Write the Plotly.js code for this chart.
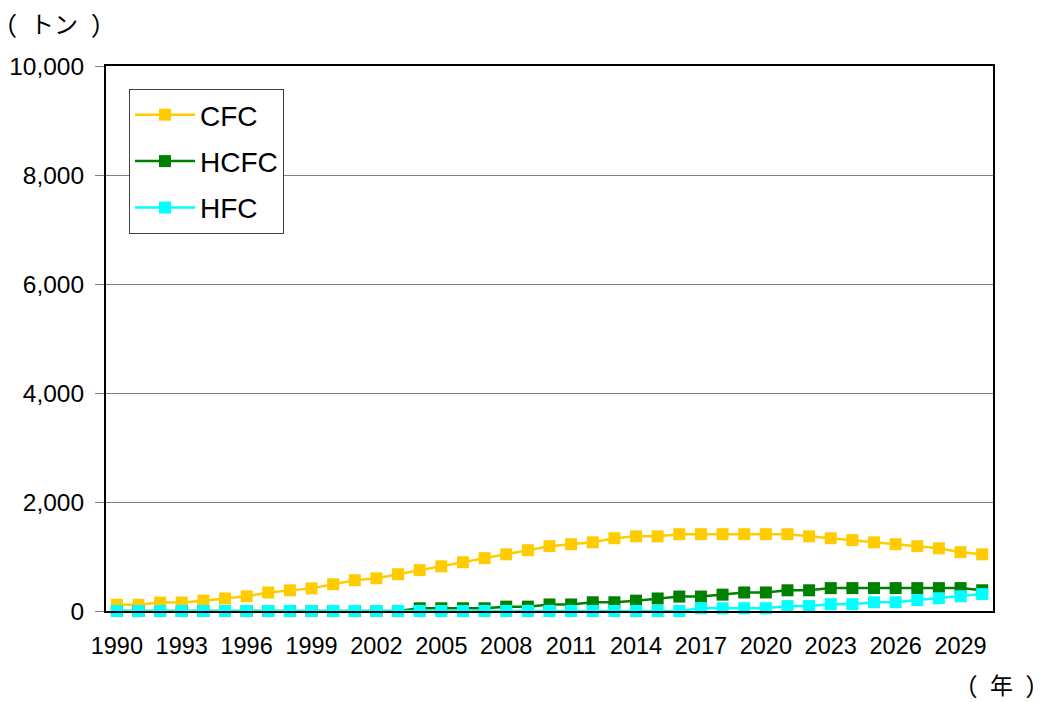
<!DOCTYPE html>
<html>
<head>
<meta charset="utf-8">
<script src="https://cdn.plot.ly/plotly-3.0.1.min.js"></script>
<style>
  html, body { margin: 0; padding: 0; background: #ffffff; }
  #chart { width: 1042px; height: 702px; }
</style>
</head>
<body>
<div id="chart"></div>
<script>
// ---- data (tonnes) ----
var years = [1990,1991,1992,1993,1994,1995,1996,1997,1998,1999,
             2000,2001,2002,2003,2004,2005,2006,2007,2008,2009,
             2010,2011,2012,2013,2014,2015,2016,2017,2018,2019,
             2020,2021,2022,2023,2024,2025,2026,2027,2028,2029,2030];

var cfc  = [115,115,155,155,190,230,270,340,380,415,
            490,565,600,675,750,820,895,970,1040,1115,
            1190,1225,1260,1335,1370,1370,1410,1410,1410,1410,
            1410,1410,1370,1335,1300,1260,1225,1190,1150,1080,1040];

var hcfc = [0,0,0,0,0,0,0,0,0,0,
            0,0,0,0,50,50,50,50,80,80,
            120,120,160,160,190,230,265,265,300,340,
            340,380,380,420,420,420,420,420,420,420,380];

var hfc  = [0,0,0,0,0,0,0,0,0,0,
            0,0,0,0,0,0,0,0,0,0,
            0,0,0,0,0,0,0,50,50,50,
            50,90,90,125,125,160,160,200,235,270,310];

var seriesNames = ['CFC', 'HCFC', 'HFC'];
var tickYears = [1990,1993,1996,1999,2002,2005,2008,2011,2014,2017,2020,2023,2026,2029];
var yTicks = [0,2000,4000,6000,8000,10000];
var yTickLabels = ['0','2,000','4,000','6,000','8,000','10,000'];
var yUnit = '( トン )';
var xUnit = '( 年 )';

// ---- chart ----
var colors = ['#FFCC00', '#008000', '#00FFFF'];
var values = [cfc, hcfc, hfc];
var traces = values.map(function (v, i) {
  return {
    x: years,
    y: v,
    name: seriesNames[i],
    legendgroup: 'g' + i,
    type: 'scatter',
    mode: 'lines+markers',
    line: { color: colors[i], width: 2.5 },
    marker: { symbol: 'square', size: 12, color: colors[i] },
    cliponaxis: false
  };
});

var L = 106, R = 993, T = 66, B = 611;
function px(xp) { return (xp - L) / (R - L); }
function py(yp) { return (B - yp) / (B - T); }
var cjk = '"Noto Sans Mono CJK JP", "Noto Sans CJK JP", sans-serif';

var layout = {
  width: 1042,
  height: 702,
  margin: { l: L, r: 1042 - R, t: T, b: 702 - B, pad: 0 },
  paper_bgcolor: '#ffffff',
  plot_bgcolor: '#ffffff',
  font: { family: '"Liberation Sans", Arial, sans-serif', size: 24, color: '#000000' },
  showlegend: true,
  legend: {
    x: px(129), y: py(89), xanchor: 'left', yanchor: 'top',
    bgcolor: '#ffffff', bordercolor: '#404040', borderwidth: 1,
    font: { size: 28, color: '#000000' },
    tracegroupgap: 7,
    itemwidth: 60,
    traceorder: 'grouped'
  },
  xaxis: {
    type: 'linear',
    range: [1989.5, 2030.5],
    tickmode: 'array',
    tickvals: tickYears,
    ticktext: tickYears.map(String),
    ticks: '',
    showgrid: false,
    zeroline: false,
    showline: true, linecolor: '#000000', linewidth: 2, mirror: true,
    tickfont: { size: 23.5 },
    ticklabelstandoff: 13,
    fixedrange: true
  },
  yaxis: {
    range: [0, 10000],
    tickmode: 'array',
    tickvals: yTicks,
    ticktext: yTickLabels,
    ticks: 'outside', ticklen: 9, tickcolor: '#808080', tickwidth: 1,
    showgrid: true, gridcolor: '#808080', gridwidth: 1,
    zeroline: false,
    showline: true, linecolor: '#000000', linewidth: 2, mirror: true,
    tickfont: { size: 24.5 },
    ticklabelstandoff: 6,
    fixedrange: true
  },
  annotations: [
    {
      xref: 'paper', yref: 'paper', x: px(4), y: py(23),
      xanchor: 'left', yanchor: 'middle', showarrow: false,
      text: yUnit,
      font: { family: cjk, size: 24, color: '#000000' }
    },
    {
      xref: 'paper', yref: 'paper', x: px(1038), y: py(684),
      xanchor: 'right', yanchor: 'middle', showarrow: false,
      text: xUnit,
      font: { family: cjk, size: 23, color: '#000000' }
    }
  ]
};

Plotly.newPlot('chart', traces, layout, { displayModeBar: false, staticPlot: true });
</script>
</body>
</html>
